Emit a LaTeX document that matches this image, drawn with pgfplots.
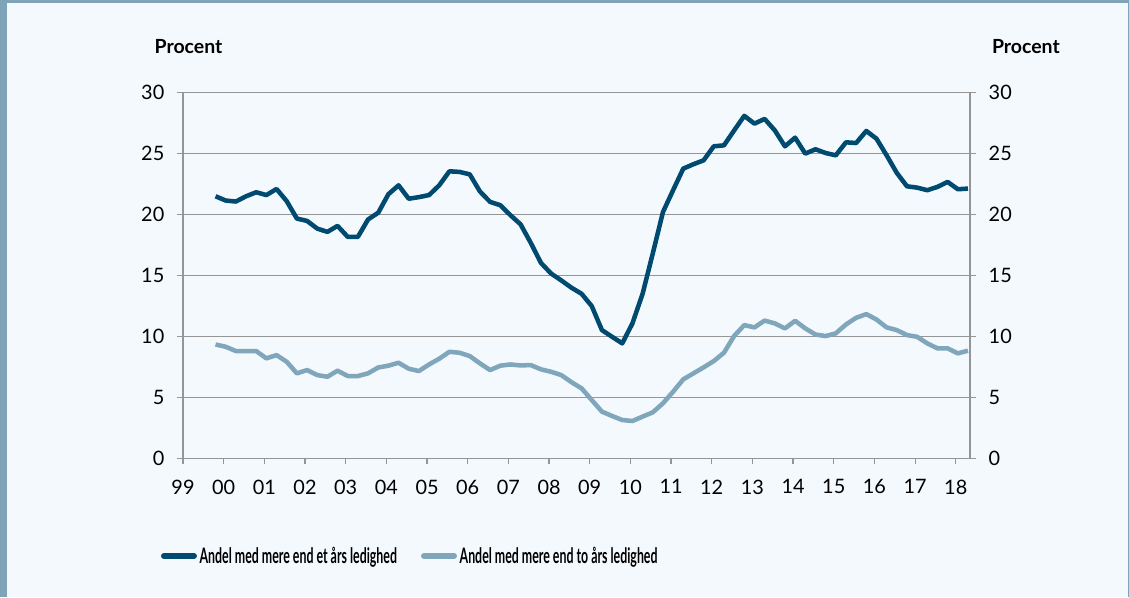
\documentclass[border=0pt]{standalone}
\usepackage{pgfplots}
\pgfplotsset{compat=1.18}
\usepackage{pgfplotstable}
\usepackage{fontspec}
\setmainfont{Lato}
\definecolor{bgc}{HTML}{F4F9FD}
\definecolor{framec}{HTML}{7FA3B8}
\definecolor{darkc}{HTML}{004A70}
\definecolor{lightc}{HTML}{80A6BC}
\definecolor{gridc}{HTML}{959595}

\pgfplotstableread{
x a b
0.80 21.50 9.34
1.05 21.15 9.15
1.30 21.07 8.80
1.55 21.50 8.80
1.80 21.83 8.80
2.05 21.60 8.20
2.30 22.10 8.47
2.55 21.10 7.92
2.80 19.67 6.97
3.05 19.48 7.24
3.30 18.85 6.83
3.55 18.58 6.69
3.80 19.07 7.19
4.05 18.17 6.75
4.30 18.17 6.75
4.55 19.60 6.97
4.80 20.15 7.45
5.05 21.67 7.60
5.30 22.40 7.84
5.55 21.30 7.35
5.80 21.43 7.16
6.05 21.60 7.70
6.30 22.40 8.17
6.55 23.55 8.74
6.80 23.50 8.66
7.05 23.30 8.39
7.30 21.90 7.79
7.55 21.04 7.24
7.80 20.77 7.60
8.05 19.95 7.70
8.30 19.20 7.62
8.55 17.68 7.65
8.80 16.04 7.30
9.05 15.16 7.10
9.30 14.60 6.83
9.55 14.00 6.25
9.80 13.50 5.74
10.05 12.49 4.78
10.30 10.52 3.83
10.55 9.97 3.47
10.80 9.43 3.14
11.05 11.07 3.06
11.30 13.50 3.42
11.55 16.80 3.77
11.80 20.20 4.51
12.05 22.00 5.46
12.30 23.77 6.48
12.55 24.13 6.97
12.80 24.45 7.46
13.05 25.60 7.98
13.30 25.68 8.66
13.55 26.90 10.03
13.80 28.10 10.93
14.05 27.46 10.74
14.30 27.85 11.30
14.55 26.91 11.07
14.80 25.60 10.66
15.05 26.31 11.28
15.30 25.00 10.66
15.55 25.36 10.16
15.80 25.05 10.03
16.05 24.86 10.25
16.30 25.93 10.98
16.55 25.87 11.53
16.80 26.86 11.83
17.05 26.23 11.39
17.30 24.86 10.74
17.55 23.42 10.52
17.80 22.32 10.11
18.05 22.21 9.97
18.30 22.00 9.43
18.55 22.27 9.02
18.80 22.68 9.02
19.05 22.08 8.61
19.30 22.13 8.83
}\data

\begin{document}
\begin{tikzpicture}[x=0.75pt,y=0.75pt]
\useasboundingbox (0,0) rectangle (1129,597);
\fill[bgc] (0,0) rectangle (1129,597);
\fill[framec] (0,0) rectangle (7,597);
\fill[framec] (0,594) rectangle (1129,597);
\fill[framec] (1127.5,0) rectangle (1129,597);
\begin{axis}[
  at={(137.25pt,104.03pt)}, anchor=south west,
  scale only axis, width=590.25pt, height=274.2pt,
  xmin=0, xmax=19.35, ymin=0, ymax=30,
  xtick={0,...,19},
  xticklabels={99,00,01,02,03,04,05,06,07,08,09,10,11,12,13,14,15,16,17,18},
  ytick={0,5,...,30},
  xtick pos=left, ytick pos=left,
  ymajorgrids, grid style={gridc, line width=0.9pt},
  axis line style={gridc, line width=0.9pt},
  tick style={gridc, line width=0.9pt},
  tick align=outside, major tick length=4.5pt,
  ticklabel style={font=\fontsize{14.9}{17}\selectfont, text=black},
  /pgf/number format/assume math mode=true,
  yticklabel style={xshift=-6pt},
  xticklabel style={yshift=-8pt},
  legend style={at={(rel axis cs:-0.028,-0.267)}, anchor=west, draw=none, fill=none,
    inner sep=0pt, outer sep=0pt, legend columns=2,
    /tikz/every even column/.append style={column sep=16pt},
    font=\bfseries\fontsize{16}{18}\selectfont,
    nodes={inner sep=2pt}},
  legend image code/.code={\draw[#1, line width=4.5pt, line cap=round] (0pt,0pt) -- (22.5pt,0pt);},
  clip=false,
]
\addplot[darkc, line width=3.4pt, line join=round] table[x=x, y=a] {\data};
\addlegendentry{\scalebox{0.58}[1]{Andel med mere end et års ledighed}}
\addplot[lightc, line width=3.4pt, line join=round] table[x=x, y=b] {\data};
\addlegendentry{\scalebox{0.58}[1]{Andel med mere end to års ledighed}}
\node[font=\bfseries\fontsize{14.6}{17}\selectfont] at (rel axis cs:0.007,1.125) {Procent};
\node[font=\bfseries\fontsize{14.6}{17}\selectfont] at (rel axis cs:1.071,1.125) {Procent};
\end{axis}
\begin{axis}[
  at={(137.25pt,104.03pt)}, anchor=south west,
  scale only axis, width=590.25pt, height=274.2pt,
  xmin=0, xmax=19.35, ymin=0, ymax=30,
  axis x line=none, axis y line*=right,
  ytick={0,5,...,30},
  axis line style={gridc, line width=0.9pt},
  tick style={gridc, line width=0.9pt},
  tick align=outside, major tick length=4.5pt,
  ticklabel style={font=\fontsize{14.9}{17}\selectfont, text=black},
  /pgf/number format/assume math mode=true,
  yticklabel style={xshift=6pt},
]
\end{axis}
\end{tikzpicture}
\end{document}
